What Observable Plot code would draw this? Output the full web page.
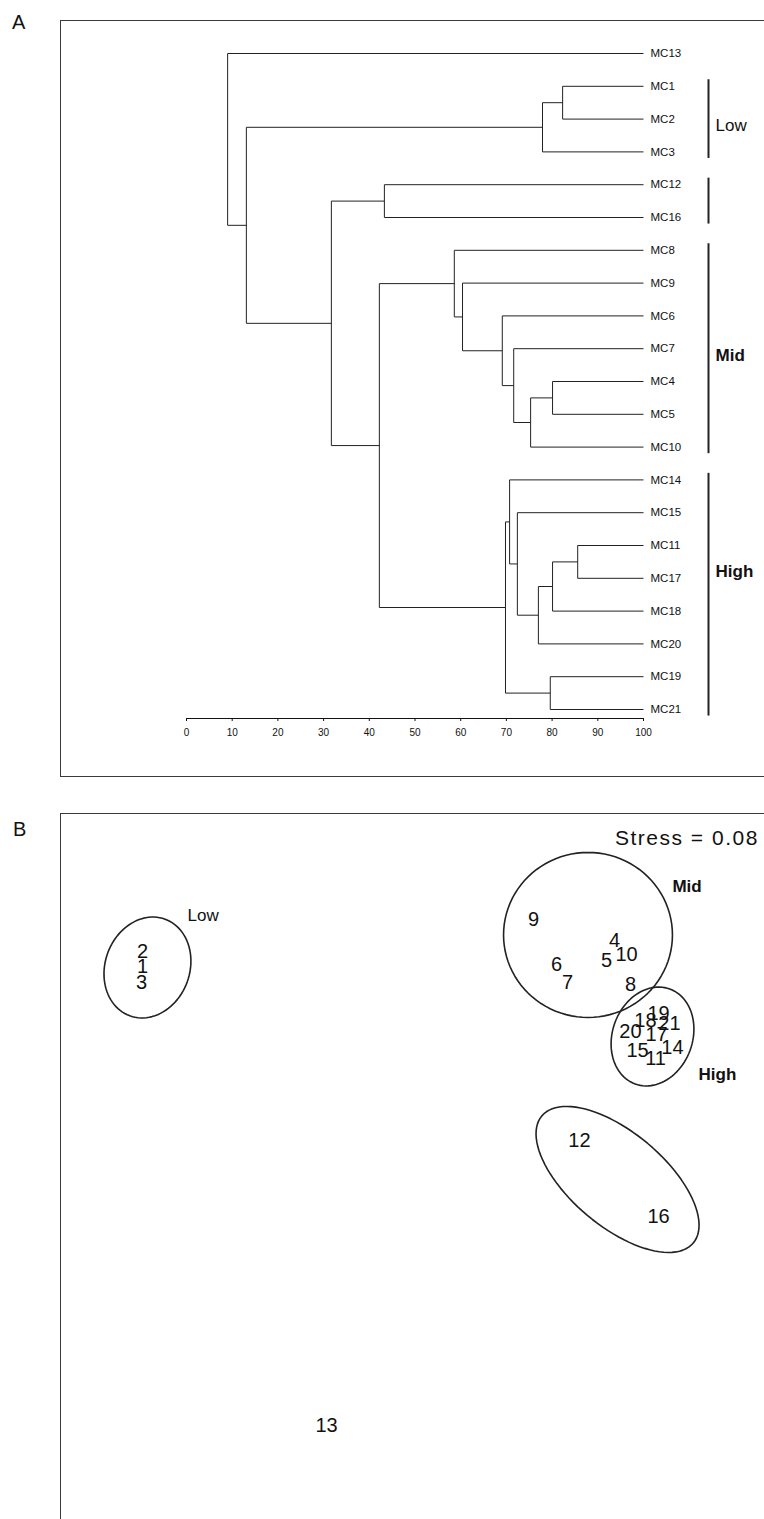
<!DOCTYPE html>
<html>
<head>
<meta charset="utf-8">
<script src="https://cdn.jsdelivr.net/npm/d3@7"></script>
<script src="https://cdn.jsdelivr.net/npm/@observablehq/plot@0.6"></script>
<style>
html,body{margin:0;padding:0;background:#fff;}
#page{position:relative;width:764px;height:1519px;overflow:hidden;background:#fff;font-family:"Liberation Sans",Arial,Helvetica,sans-serif;color:#111;}
.panel{position:absolute;left:0;}
.frame{position:absolute;border:1px solid #3a3a3a;pointer-events:none;}
.letter{position:absolute;font-size:20px;line-height:1;color:#111;}
#stress{position:absolute;left:615px;top:827px;font-size:21px;line-height:1;letter-spacing:1.5px;white-space:nowrap;color:#111;}
g[aria-label="leaf-labels"] text{letter-spacing:1px;}
g[aria-label="group-labels"] text{letter-spacing:1.5px;}
g[aria-label="group-labels-bold"] text{letter-spacing:1px;}
g[aria-label="mds-group-labels"] text{letter-spacing:1.5px;}
g[aria-label="mds-group-labels-bold"] text{letter-spacing:1px;}
</style>
</head>
<body>
<div id="page">
  <div id="panelA" class="panel" style="top:0"></div>
  <div id="panelB" class="panel" style="top:790px"></div>
  <div class="frame" style="left:60px;top:20px;width:900px;height:755px"></div>
  <div class="frame" style="left:60px;top:813px;width:900px;height:900px"></div>
  <div class="letter" style="left:12px;top:12px">A</div>
  <div class="letter" style="left:13px;top:819px">B</div>
  <div id="stress">Stress = 0.08</div>
</div>
<script>
// ---------- Panel A: cluster dendrogram (similarity %) ----------
const leaves = ["MC13","MC1","MC2","MC3","MC12","MC16","MC8","MC9","MC6","MC7","MC4","MC5","MC10","MC14","MC15","MC11","MC17","MC18","MC20","MC19","MC21"];
// merge i creates node "n"+(i+1)
const mergeA = ["MC1","n1","MC12","MC4","n4","MC7","MC6","MC9","MC8","MC11","n10","n11","MC15","MC14","MC19","n14","n9","n3","n2","MC13"];
const mergeB = ["MC2","MC3","MC16","MC5","MC10","n5","n6","n7","n8","MC17","MC18","MC20","n12","n13","MC21","n15","n16","n17","n18","n19"];
const mergeSimilarity = [82.3,77.9,43.3,80.1,75.3,71.6,69.1,60.4,58.6,85.6,80.1,77.0,72.4,70.7,79.6,69.8,42.2,31.7,13.1,9.0];
const similarityTicks = [0,10,20,30,40,50,60,70,80,90,100];
const groupNames = ["Low","","Mid","High"];
const groupFirst = [1,4,6,13];
const groupLast = [3,5,12,20];
const groupLabelRow = [2.2,4.5,9.2,15.8];
const groupBold = [false,false,true,true];

// ---------- Panel B: MDS ordination ----------
const siteLabels = ["1","2","3","4","5","6","7","8","9","10","11","12","13","14","15","16","17","18","19","20","21"];
const mds1 = [-1.72,-1.72,-1.727,1.427,1.373,1.04,1.113,1.533,0.887,1.507,1.70,1.193,-0.493,1.813,1.58,1.72,1.707,1.633,1.72,1.533,1.793];
const mds2 = [1.227,1.327,1.12,1.40,1.267,1.24,1.12,1.107,1.54,1.307,0.613,0.067,-1.833,0.687,0.667,-0.44,0.773,0.867,0.913,0.793,0.847];
const ellipseName = ["Low","Mid","High","12-16"];
const ellipseCx = [-1.687,1.25,1.68,1.447];
const ellipseCy = [1.22,1.437,0.76,-0.193];
const ellipseA = [0.343,0.563,0.337,0.659];
const ellipseB = [0.282,0.55,0.267,0.313];
const ellipseAngle = [70,0,70,-40];
const mdsGroupName = ["Low","Mid","High"];
const mdsGroupX = [-1.42,1.813,1.987];
const mdsGroupY = [1.567,1.757,0.507];
const mdsGroupBold = [false,true,true];

// build dendrogram segments
const pos = new Map();
leaves.forEach((l,i)=>pos.set(l,{x:100,y:i}));
const segs = [];
mergeA.forEach((a,i)=>{
  const A = pos.get(a), B = pos.get(mergeB[i]), h = mergeSimilarity[i];
  segs.push({x1:h,y1:A.y,x2:h,y2:B.y});
  segs.push({x1:h,y1:A.y,x2:A.x,y2:A.y});
  segs.push({x1:h,y1:B.y,x2:B.x,y2:B.y});
  pos.set("n"+(i+1),{x:h,y:(A.y+B.y)/2});
});
const leafTable = leaves.map((l,i)=>({label:l,row:i}));
const groups = groupNames.map((g,i)=>({name:g,first:groupFirst[i]-0.2,last:groupLast[i]+0.2,row:groupLabelRow[i],bold:groupBold[i]}));

const plotA = Plot.plot({
  width:764, height:790,
  marginLeft:186, marginRight:121, marginTop:20, marginBottom:72,
  x:{domain:[0,100], ticks:similarityTicks, tickSize:3, tickPadding:7, label:null, line:true},
  y:{domain:[0,20], range:[53,709], axis:null},
  style:{fontFamily:"Liberation Sans, Arial, sans-serif", fontSize:"10px", color:"#111", background:"transparent"},
  marks:[
    Plot.link(segs,{x1:"x1",y1:"y1",x2:"x2",y2:"y2",stroke:"#222",strokeWidth:1}),
    Plot.text(leafTable,{x:()=>100,y:"row",text:"label",dx:7,textAnchor:"start",fontSize:11.5,fill:"#111",ariaLabel:"leaf-labels"}),
    Plot.ruleX(groups,{x:()=>100,y1:"first",y2:"last",dx:65,stroke:"#222",strokeWidth:2}),
    Plot.text(groups.filter(g=>g.name && !g.bold),{x:()=>100,y:"row",text:"name",dx:72,textAnchor:"start",fontSize:17,fill:"#111",ariaLabel:"group-labels"}),
    Plot.text(groups.filter(g=>g.name && g.bold),{x:()=>100,y:"row",text:"name",dx:72,textAnchor:"start",fontSize:17,fontWeight:"bold",fill:"#111",ariaLabel:"group-labels-bold"})
  ]
});
document.getElementById("panelA").appendChild(plotA);

// ellipse outlines from their read-off parameters
const ellipsePts = [];
ellipseName.forEach((n,i)=>{
  const t = ellipseAngle[i]*Math.PI/180;
  for(let k=0;k<=96;k++){
    const u = 2*Math.PI*k/96;
    const ex = ellipseA[i]*Math.cos(u), ey = ellipseB[i]*Math.sin(u);
    ellipsePts.push({name:n, x:ellipseCx[i]+ex*Math.cos(t)-ey*Math.sin(t), y:ellipseCy[i]+ex*Math.sin(t)+ey*Math.cos(t)});
  }
});
const sites = siteLabels.map((s,i)=>({label:s,x:mds1[i],y:mds2[i]}));
const mdsGroups = mdsGroupName.map((g,i)=>({name:g,x:mdsGroupX[i],y:mdsGroupY[i],bold:mdsGroupBold[i]}));

const plotB = Plot.plot({
  width:764, height:729,
  marginLeft:100, marginRight:64, marginTop:60, marginBottom:69,
  x:{domain:[-2,2], axis:null},
  y:{domain:[-2,2], axis:null},
  style:{fontFamily:"Liberation Sans, Arial, sans-serif", fontSize:"20px", color:"#111", background:"transparent"},
  marks:[
    Plot.line(ellipsePts,{x:"x",y:"y",z:"name",stroke:"#222",strokeWidth:1.6}),
    Plot.text(sites,{x:"x",y:"y",text:"label",fontSize:20,fill:"#111"}),
    Plot.text(mdsGroups.filter(g=>!g.bold),{x:"x",y:"y",text:"name",textAnchor:"start",fontSize:17,fill:"#111",ariaLabel:"mds-group-labels"}),
    Plot.text(mdsGroups.filter(g=>g.bold),{x:"x",y:"y",text:"name",textAnchor:"start",fontSize:17,fontWeight:"bold",fill:"#111",ariaLabel:"mds-group-labels-bold"})
  ]
});
document.getElementById("panelB").appendChild(plotB);
</script>
</body>
</html>
